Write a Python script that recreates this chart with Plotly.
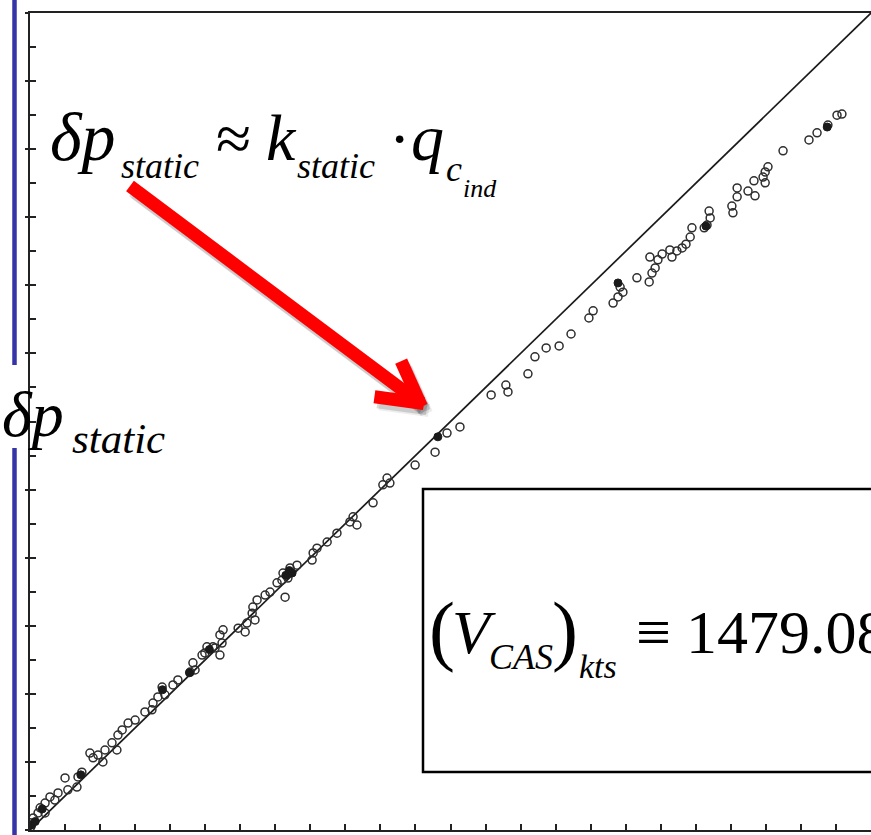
import numpy as np
import plotly.graph_objects as go

# Static-pressure error, measured vs. indicated (plot units, both axes 0..24)
x_open = [0.02, 0.00, 0.09, 0.23, 0.29, 0.43, 0.43, 0.71, 0.57, 0.80,
          1.08, 1.00, 1.34, 1.37, 1.48, 1.80, 1.71, 2.08, 1.94, 2.14,
          2.48, 2.34, 2.51, 2.63, 2.80, 3.00, 3.28, 3.48, 3.51, 3.65,
          3.85, 3.77, 4.08, 4.22, 4.57, 4.71, 4.65, 4.91, 4.99, 5.05,
          5.22, 5.28, 5.42, 5.48, 5.51, 5.42, 5.94, 6.14, 6.19, 6.42,
          6.34, 6.36, 6.48, 6.71, 6.85, 7.28, 7.05, 7.19, 7.36, 7.22,
          7.42, 7.62, 8.05, 8.08, 8.19, 8.48, 8.76, 9.22, 9.13, 9.33,
          9.79, 10.07, 10.19, 10.27, 10.99, 11.56, 11.90, 12.27, 13.16, 13.58,
          13.64, 14.21, 14.41, 14.73, 15.10, 15.44, 15.95, 16.07, 16.64, 16.78,
          16.92, 16.84, 17.32, 17.67, 17.75, 17.84, 17.69, 17.92, 18.04, 18.26,
          18.32, 18.46, 18.61, 18.72, 18.84, 18.89, 19.24, 19.32, 19.41, 19.38,
          20.03, 20.06, 20.18, 20.18, 20.49, 20.69, 20.66, 20.98, 20.92, 20.98,
          21.06, 21.49, 22.23, 22.46, 22.77, 23.03, 23.17]
y_open = [0.09, 0.21, 0.35, 0.50, 0.65, 0.79, 0.50, 0.88, 0.97, 1.09,
          1.18, 1.53, 1.26, 1.56, 1.70, 2.12, 2.26, 2.00, 2.20, 2.35,
          2.35, 2.56, 2.79, 2.94, 3.14, 3.23, 3.47, 3.53, 3.73, 3.91,
          3.97, 4.20, 4.26, 4.41, 4.64, 4.70, 4.91, 5.14, 5.20, 5.38,
          5.38, 5.35, 5.14, 5.49, 5.88, 5.73, 5.93, 5.82, 6.08, 6.17,
          6.37, 6.55, 6.76, 6.90, 6.99, 6.84, 7.26, 7.34, 7.40, 7.55,
          7.70, 7.78, 7.93, 8.14, 8.28, 8.46, 8.72, 9.20, 9.05, 8.96,
          9.61, 10.14, 10.34, 10.19, 10.72, 11.10, 11.66, 11.84, 12.78, 13.07,
          12.87, 13.40, 13.90, 14.16, 14.22, 14.57, 15.04, 15.25, 15.48, 15.66,
          15.80, 15.95, 16.22, 16.10, 16.36, 16.51, 16.83, 16.75, 16.92, 17.04,
          16.83, 17.01, 17.10, 17.21, 17.42, 17.69, 17.69, 17.77, 17.98, 18.18,
          18.33, 18.13, 18.86, 18.60, 18.77, 18.63, 19.07, 19.01, 19.18, 19.33,
          19.48, 19.95, 20.27, 20.48, 20.71, 21.00, 21.03]

# overlapping points that print as solid dots
x_dense = [0.05, 0.15, 0.35, 1.45, 3.78, 4.55, 5.12, 7.30, 7.40, 7.48, 11.64, 16.78, 19.29, 22.75]
y_dense = [0.15, 0.25, 0.62, 1.62, 4.12, 4.62, 5.30, 7.48, 7.62, 7.55, 11.55, 16.07, 17.74, 20.65]

# line of perfect agreement
x_ref = [0, 24]
y_ref = [0, 24]

W, H = 871, 835
L, R, T, B = 30, 0, 13, 5
PW, PH = W - L - R, H - T - B


def px(x):
    return (x - L) / PW


def py(y):
    return (H - B - y) / PH


SERIF = "Liberation Serif, Times New Roman, serif"

fig = go.Figure()

fig.add_trace(go.Scatter(
    x=x_ref, y=y_ref, mode="lines",
    line=dict(color="#1a1a1a", width=1.7), hoverinfo="skip", showlegend=False))

fig.add_trace(go.Scatter(
    x=x_open, y=y_open, mode="markers",
    marker=dict(symbol="circle-open", size=8, color="#2e2e2e", line=dict(width=1.5)),
    showlegend=False))

fig.add_trace(go.Scatter(
    x=x_dense, y=y_dense, mode="markers",
    marker=dict(symbol="circle", size=8, color="#1a1a1a", line=dict(width=1, color="#1a1a1a")),
    showlegend=False))

# invisible trace so the overlay axis (cross ticks) is drawn
fig.add_trace(go.Scatter(x=[0], y=[0], yaxis="y2", mode="markers",
                         marker=dict(opacity=0), hoverinfo="skip", showlegend=False))

axis_common = dict(range=[0, 24], showgrid=False, zeroline=False, showticklabels=False,
                   ticks="inside", ticklen=6, tickwidth=1.5, tickcolor="#222",
                   tickmode="linear", tick0=0, dtick=1,
                   showline=True, linecolor="#222", linewidth=2.2)

fig.update_layout(
    width=W, height=H,
    margin=dict(l=L, r=R, t=T, b=B, pad=0),
    paper_bgcolor="white", plot_bgcolor="white",
    xaxis=dict(**axis_common, mirror=True),
    yaxis=dict(**axis_common, mirror=False),
    yaxis2=dict(range=[0, 24], overlaying="y", showgrid=False, zeroline=False,
                showticklabels=False, showline=False, ticks="outside", ticklen=4,
                tickwidth=1.5, tickcolor="#222", tickmode="linear", tick0=2, dtick=2),
)

shapes = []

# blue rule along the left edge, interrupted by the axis label
for y0, y1 in [(0, 365), (448, 835)]:
    shapes.append(dict(type="line", xref="paper", yref="paper",
                       x0=px(14.5), x1=px(14.5), y0=py(y0), y1=py(y1),
                       line=dict(color="#3535a8", width=4.5)))

# framed definition box
shapes.append(dict(type="rect", xref="paper", yref="paper",
                   x0=px(423), x1=px(885), y0=py(772), y1=py(489),
                   line=dict(color="black", width=2.5), fillcolor="white", layer="above"))


def bar(p, q, w, ext=0.0):
    p = np.asarray(p, float)
    q = np.asarray(q, float)
    d = (q - p) / np.hypot(*(q - p))
    q = q + d * ext
    n = np.array([-d[1], d[0]])
    return [p + n * w, q + n * w, q - n * w, p - n * w]


def path_of(pts, dx=0.0, dy=0.0):
    s = "M " + " L ".join(f"{px(x + dx):.5f},{py(y + dy):.5f}" for x, y in pts)
    return s + " Z"


# red pointer arrow: shaft plus two chevron arms
start = np.array([130.0, 186.0])
tip = np.array([420.0, 403.0])
back = (start - tip) / np.hypot(*(start - tip))
arm_len, half_w = 46.0, 6.5
pieces = [bar(start, tip, half_w)]
for ang in (np.radians(29), np.radians(-29)):
    c, s = np.cos(ang), np.sin(ang)
    d = np.array([c * back[0] - s * back[1], s * back[0] + c * back[1]])
    pieces.append(bar(tip + d * arm_len, tip, half_w, ext=half_w * 0.6))

for dx, dy, col in [(5, 7, "rgba(0,0,0,0.07)"), (3, 5, "rgba(0,0,0,0.14)")]:
    for pts in pieces:
        shapes.append(dict(type="path", xref="paper", yref="paper", path=path_of(pts, dx, dy),
                           fillcolor=col, line=dict(width=0), layer="above"))
for pts in pieces:
    shapes.append(dict(type="path", xref="paper", yref="paper", path=path_of(pts),
                       fillcolor="#ff0000", line=dict(width=0), layer="above"))

fig.update_layout(shapes=shapes)


def txt(s, x_left, baseline, size, italic=True):
    center = baseline - 0.3375 * size
    fig.add_annotation(
        x=px(x_left), y=py(center), xref="paper", yref="paper",
        xanchor="left", yanchor="middle", showarrow=False,
        borderpad=0, borderwidth=0,
        text=f"<i>{s}</i>" if italic else s,
        font=dict(family=SERIF, size=size, color="black"))


# δp_static ≈ k_static · q_c_ind
txt("δp", 50, 160, 68)
txt("static", 121, 178, 36)
txt("≈", 216, 160, 64, italic=False)
txt("k", 266, 160, 66)
txt("static", 297, 178, 36)
txt("·", 389, 160, 64, italic=False)
txt("q", 411, 160, 66)
txt("c", 446, 181, 36)
txt("ind", 463, 197, 26)

# axis label
txt("δp", 2, 436, 64)
txt("static", 72, 453, 43)

# (V_CAS)_kts ≡ 1479.08
txt("(", 429, 656, 78, italic=False)
txt("V", 452, 653, 62)
txt("CAS", 489, 669, 36)
txt(")", 552, 656, 78, italic=False)
txt("kts", 579, 678, 34)
txt("≡", 636, 653, 62, italic=False)
txt("1479.08", 686, 653, 62, italic=False)

fig.write_html("out.html")
